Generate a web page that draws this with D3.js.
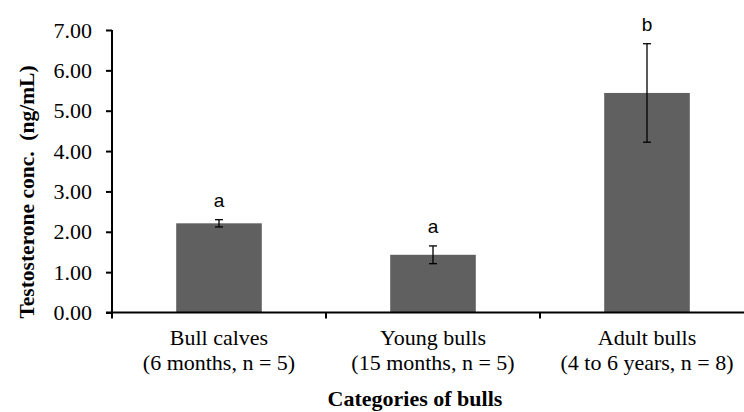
<!DOCTYPE html>
<html>
<head>
<meta charset="utf-8">
<script src="https://cdn.jsdelivr.net/npm/d3@7"></script>
<style>
  body { margin: 0; background: #fff; }
  svg { display: block; }
</style>
</head>
<body>
<svg id="chart"></svg>
<script>
// bull categories and their testosterone means (ng/mL) with error bars
const categories = ["Bull calves", "Young bulls", "Adult bulls"];
const subLabels = ["(6 months, n = 5)", "(15 months, n = 5)", "(4 to 6 years, n = 8)"];
const means = [2.21, 1.43, 5.44];
const errors = [0.09, 0.22, 1.22];
const letters = ["a", "a", "b"];
const yTicks = [0, 1, 2, 3, 4, 5, 6, 7];

const width = 744, height = 412;
const svg = d3.select("#chart").attr("width", width).attr("height", height);

const x = d3.scaleBand()
    .domain(categories)
    .range([112, 754])
    .paddingInner(0.6)
    .paddingOuter(0.3);

const y = d3.scaleLinear().domain([0, 7]).range([312.5, 30]);

const serif = "'Liberation Serif', 'Times New Roman', serif";

// bars
svg.selectAll("rect.bar")
    .data(categories)
    .enter().append("rect")
    .attr("class", "bar")
    .attr("x", d => x(d))
    .attr("width", x.bandwidth())
    .attr("y", (d, i) => y(means[i]))
    .attr("height", (d, i) => y(0) - y(means[i]))
    .attr("fill", "#606060");

// error bars
const eb = svg.selectAll("g.err")
    .data(categories)
    .enter().append("g")
    .attr("class", "err")
    .attr("transform", d => `translate(${x(d) + x.bandwidth() / 2},0)`)
    .attr("stroke", "#000")
    .attr("stroke-width", 1.3);
eb.append("line")
    .attr("y1", (d, i) => y(means[i] + errors[i]))
    .attr("y2", (d, i) => y(means[i] - errors[i]));
eb.append("line")
    .attr("x1", -4).attr("x2", 4)
    .attr("y1", (d, i) => y(means[i] + errors[i]))
    .attr("y2", (d, i) => y(means[i] + errors[i]));
eb.append("line")
    .attr("x1", -4).attr("x2", 4)
    .attr("y1", (d, i) => y(means[i] - errors[i]))
    .attr("y2", (d, i) => y(means[i] - errors[i]));

// significance letters
svg.selectAll("text.sig")
    .data(categories)
    .enter().append("text")
    .attr("class", "sig")
    .attr("x", d => x(d) + x.bandwidth() / 2)
    .attr("y", (d, i) => y(means[i] + errors[i]) - 13)
    .attr("text-anchor", "middle")
    .attr("font-family", "'Liberation Sans', Arial, sans-serif")
    .attr("font-size", 19)
    .attr("fill", "#000")
    .text((d, i) => letters[i]);

// y axis
const yAxis = svg.append("g")
    .attr("transform", "translate(112,0)")
    .call(d3.axisLeft(y).tickValues(yTicks).tickFormat(d3.format(".2f")).tickSize(6).tickPadding(14));
yAxis.select(".domain").attr("stroke", "#000").attr("stroke-width", 2).attr("d", `M0,${y(7)}V${y(0)}`);
yAxis.selectAll(".tick line").attr("stroke", "#000").attr("stroke-width", 2);
yAxis.selectAll(".tick text")
    .attr("font-family", serif)
    .attr("font-size", 22)
    .attr("fill", "#000");

// x axis line with ticks at the category boundaries
const xAxis = svg.append("g");
xAxis.append("line")
    .attr("x1", x.range()[0] - 6).attr("x2", x.range()[1])
    .attr("y1", y(0)).attr("y2", y(0))
    .attr("stroke", "#000").attr("stroke-width", 2);
xAxis.selectAll("line.tk")
    .data(d3.range(categories.length))
    .enter().append("line")
    .attr("class", "tk")
    .attr("x1", i => x.range()[0] + i * x.step())
    .attr("x2", i => x.range()[0] + i * x.step())
    .attr("y1", y(0)).attr("y2", y(0) + 6)
    .attr("stroke", "#000").attr("stroke-width", 2);

const lab = xAxis.selectAll("text.cat")
    .data(categories)
    .enter().append("text")
    .attr("class", "cat")
    .attr("text-anchor", "middle")
    .attr("font-family", serif)
    .attr("font-size", 22)
    .attr("fill", "#000");
lab.append("tspan")
    .attr("x", d => x(d) + x.bandwidth() / 2)
    .attr("y", 345)
    .text(d => d);
lab.append("tspan")
    .attr("x", d => x(d) + x.bandwidth() / 2)
    .attr("y", 370)
    .text((d, i) => subLabels[i]);

// axis titles
svg.append("text")
    .attr("x", 415).attr("y", 406)
    .attr("text-anchor", "middle")
    .attr("font-family", serif)
    .attr("font-weight", "bold")
    .attr("font-size", 22)
    .attr("fill", "#000")
    .text("Categories of bulls");

svg.append("text")
    .attr("transform", "translate(34,192) rotate(-90)")
    .attr("text-anchor", "middle")
    .attr("font-family", serif)
    .attr("font-weight", "bold")
    .attr("font-size", 21.5)
    .attr("fill", "#000")
    .attr("xml:space", "preserve")
    .style("white-space", "pre")
    .text("Testosterone conc.  (ng/mL)");
</script>
</body>
</html>
